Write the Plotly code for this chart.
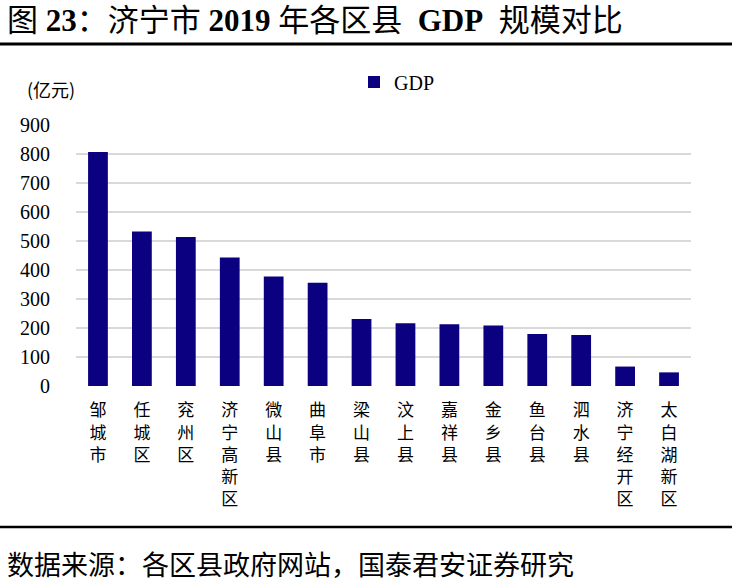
import plotly.graph_objects as go

categories = ["邹城市", "任城区", "兖州区", "济宁高新区", "微山县", "曲阜市", "梁山县",
              "汶上县", "嘉祥县", "金乡县", "鱼台县", "泗水县", "济宁经开区", "太白湖新区"]
gdp = [807, 533, 514, 443, 378, 356, 231, 216, 213, 209, 179, 176, 67, 47]
y_ticks = [0, 100, 200, 300, 400, 500, 600, 700, 800, 900]

title_text = "图 <b>23</b>：济宁市 <b>2019</b> 年各区县  <b>GDP</b>  规模对比"
unit_text = "(亿元)"
source_text = "数据来源：各区县政府网站，国泰君安证券研究"

OFF = 0  # body margin removed via post_script
W, H = 732, 586
PL, PR, PT, PB = 76, 691, 125, 386
L, R, T, B = PL - OFF, W - (PR - OFF), PT - OFF, H - (PB - OFF)
pw, ph = W - L - R, H - T - B

def px_x(p):  # page pixel -> paper
    return (p - OFF - L) / pw

def px_y(p):
    return (H - B - (p - OFF)) / ph

SERIF = "'Liberation Serif', 'Times New Roman', 'Noto Sans CJK SC', serif"
CJK = "'Noto Sans CJK SC', 'Liberation Serif', sans-serif"
NAVY = "#0a0080"

vert_labels = ["<br>".join(list(c)) for c in categories]

fig = go.Figure()
fig.add_trace(go.Bar(x=categories, y=gdp, name="GDP", marker_color=NAVY,
                     marker_line_width=0))

fig.update_layout(
    width=W, height=H,
    margin=dict(l=L, r=R, t=T, b=B, autoexpand=False),
    plot_bgcolor="white", paper_bgcolor="white",
    bargap=0.55,
    showlegend=True,
    legend=dict(orientation="h", x=px_x(354), y=px_y(82), xanchor="left", yanchor="middle",
                font=dict(family=SERIF, size=20, color="black"), itemwidth=30,
                bgcolor="rgba(0,0,0,0)"),
    xaxis=dict(tickmode="array", tickvals=categories, ticktext=vert_labels,
               tickfont=dict(family=SERIF, size=17, color="black"),
               ticks="outside", ticklen=9, tickcolor="rgba(0,0,0,0)",
               showgrid=False, showline=False, zeroline=False, tickangle=0),
    yaxis=dict(range=[0, 900], tickmode="array", tickvals=y_ticks,
               tickfont=dict(family=SERIF, size=20, color="black"),
               ticks="outside", ticklen=21, tickcolor="rgba(0,0,0,0)",
               showgrid=True, gridcolor="#d9d9d9", gridwidth=1.5,
               zeroline=False, showline=False),
    shapes=[
        dict(type="line", xref="paper", yref="paper", x0=px_x(0), x1=px_x(W),
             y0=px_y(44), y1=px_y(44), line=dict(color="black", width=3)),
        dict(type="line", xref="paper", yref="paper", x0=px_x(0), x1=px_x(W),
             y0=px_y(527), y1=px_y(527), line=dict(color="black", width=2.5)),
    ],
    annotations=[
        dict(text=title_text, xref="paper", yref="paper",
             x=px_x(5), y=px_y(1), xanchor="left", yanchor="top", showarrow=False,
             font=dict(family=SERIF, size=31, color="black")),
        dict(text=unit_text, xref="paper", yref="paper",
             x=px_x(25), y=px_y(89), xanchor="left", yanchor="middle", showarrow=False,
             font=dict(family=CJK, size=18, color="black")),
        dict(text=source_text, xref="paper", yref="paper",
             x=px_x(5), y=px_y(563), xanchor="left", yanchor="middle", showarrow=False,
             font=dict(family=CJK, size=27, color="black")),
    ],
)

fig.write_html("out.html", config={"displayModeBar": False},
               post_script="document.body.style.margin='0';")
